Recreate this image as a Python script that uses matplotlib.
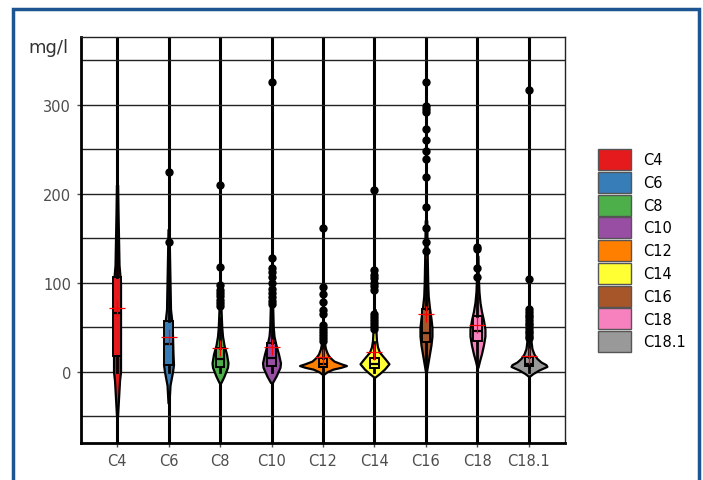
import matplotlib.pyplot as plt
import numpy as np
from matplotlib.patches import Patch, Rectangle

categories = ['C4', 'C6', 'C8', 'C10', 'C12', 'C14', 'C16', 'C18', 'C18.1']
colors = ['#E41A1C', '#377EB8', '#4DAF4A', '#984EA3', '#FF7F00',
          '#FFFF33', '#A65628', '#F781BF', '#999999']

# box statistics (mg/l)
q1 = [18, 8, 5, 6, 5, 4, 34, 35, 6]
median = [66, 31, 14, 15, 9, 9, 44, 46, 9]
q3 = [107, 57, 27, 32, 15, 16, 71, 63, 17]
mean = [72, 39, 27, 28, 17, 22, 65, 52, 18]
whislo = [0, 0, 0, 0, 0, 0, 1, 8, 0]
whishi = [240, 130, 60, 70, 30, 34, 126, 100, 33]

outliers = [
    [],
    [224, 146],
    [210, 118, 97, 92, 88, 85, 81, 77, 74],
    [326, 128, 116, 112, 107, 100, 93, 88, 84, 80, 76],
    [162, 95, 87, 78, 69, 65, 52, 48, 45, 41, 38, 35],
    [204, 114, 109, 105, 100, 96, 92, 65, 61, 58, 55, 51, 48],
    [326, 298, 295, 292, 273, 260, 248, 239, 219, 185, 162, 146, 136],
    [140, 138, 117, 107],
    [316, 104, 70, 67, 64, 61, 58, 55, 52, 49, 46, 43, 40, 38],
]

# violin outlines: value and relative density (full width)
violin_y = [
    [-50, -30, -10, 0, 18, 60, 100, 120, 150, 180, 210],
    [-35, -15, 0, 8, 20, 40, 55, 70, 100, 130, 160],
    [-12, -5, 5, 10, 20, 30, 40, 50, 70, 90],
    [-12, -5, 5, 10, 20, 30, 40, 50, 70, 90],
    [-3, 0, 3, 5, 7, 9, 12, 16, 20, 26, 32, 45],
    [-6, -2, 3, 9, 14, 18, 22, 28, 35, 50, 70],
    [0, 10, 20, 30, 40, 50, 60, 72, 85, 100, 130, 170],
    [5, 12, 20, 30, 40, 48, 58, 68, 78, 90, 110, 130],
    [-5, -2, 2, 6, 8, 11, 15, 20, 26, 35, 50, 70],
]
violin_d = [
    [1, 3, 5, 7, 7, 7, 7, 4, 3, 2, 1.2],
    [1, 3, 8, 10, 9, 8, 7, 4, 3, 2, 1],
    [2, 8, 15, 16, 13, 8, 5, 3.5, 2, 1.5],
    [2, 9, 17, 18, 14, 9, 5, 3.5, 2.5, 1.5],
    [1, 8, 20, 36, 47, 36, 22, 14, 9, 5, 3, 2],
    [1, 10, 20, 29, 22, 16, 10, 6, 4, 2.5, 1.5],
    [1, 4, 7, 10, 12, 12, 10, 7, 4.5, 3.5, 2.5, 1.5],
    [1, 4, 8, 12, 15, 15, 12, 8, 5, 3, 1.5, 1],
    [1, 8, 20, 36, 34, 24, 16, 10, 6, 4, 2.5, 1.5],
]

plt.rcParams['font.family'] = 'DejaVu Sans'

fig = plt.figure(figsize=(7.03, 4.81), dpi=100)
ax = fig.add_axes([0.1152, 0.0769, 0.6885, 0.8441])

x = np.arange(1, len(categories) + 1)
scale = 1 / 51.6

stats = []
for i in range(len(categories)):
    stats.append(dict(coords=np.array(violin_y[i], float), vals=np.array(violin_d[i], float),
                      mean=mean[i], median=median[i],
                      min=min(violin_y[i]), max=max(violin_y[i])))
parts = ax.violin(stats, positions=x, widths=[max(d) * scale for d in violin_d],
                  showmeans=False, showextrema=False, showmedians=False)
for body, c in zip(parts['bodies'], colors):
    body.set_facecolor(c)
    body.set_edgecolor('black')
    body.set_linewidth(1.6)
    body.set_alpha(1)
    body.set_zorder(2)

boxes = []
for i in range(len(categories)):
    boxes.append(dict(med=median[i], q1=q1[i], q3=q3[i], whislo=whislo[i],
                      whishi=whishi[i], fliers=outliers[i], mean=mean[i]))
bp = ax.bxp(boxes, positions=x, widths=0.16, patch_artist=True, showcaps=False,
            showmeans=True, zorder=3,
            boxprops=dict(edgecolor='black', linewidth=1.4),
            medianprops=dict(color='black', linewidth=1.6),
            whiskerprops=dict(color='black', linewidth=2),
            flierprops=dict(marker='o', markerfacecolor='black', markeredgecolor='black',
                            markersize=5),
            meanprops=dict(marker='+', markeredgecolor='red', markersize=11,
                           markeredgewidth=0.9))
for patch, c in zip(bp['boxes'], colors):
    patch.set_facecolor(c)

ax.set_xlim(0.3, 9.7)
ax.set_ylim(-80, 376)
ax.set_xticks(x, categories)
ax.set_yticks([0, 100, 200, 300])
ax.set_yticks([-50, 50, 150, 250, 350], minor=True)
ax.set_axisbelow(True)
ax.grid(axis='x', color='black', linewidth=2.2)
ax.grid(axis='y', which='both', color='#222222', linewidth=1)
ax.tick_params(which='minor', length=0)
ax.tick_params(axis='both', labelsize=10.5, labelcolor='#4d4d4d', color='#4d4d4d',
               length=3, width=1, pad=4)

for side in ['left', 'bottom']:
    ax.spines[side].set_linewidth(2)
    ax.spines[side].set_color('black')
for side in ['top', 'right']:
    ax.spines[side].set_linewidth(1)
    ax.spines[side].set_color('#222222')

fig.text(28 / 703, 1 - 48 / 481, 'mg/l', fontsize=13, color='#333333', va='center', ha='left')

handles = [Patch(facecolor=c, edgecolor='#555555', linewidth=1) for c in colors]
fig.legend(handles, categories, loc='upper left', bbox_to_anchor=(598 / 703, 1 - 150 / 481),
           frameon=False, borderpad=0, borderaxespad=0, fontsize=10.5,
           handlelength=2.26, handleheight=1.84, labelspacing=0.12, handletextpad=0.82)

fig.add_artist(Rectangle((13 / 703, -0.05), (699 - 13) / 703, 1 - 10 / 481 + 0.05,
                         transform=fig.transFigure, fill=False, edgecolor='#1d5593',
                         linewidth=2.5))

fig.savefig('out.png', dpi=100)
